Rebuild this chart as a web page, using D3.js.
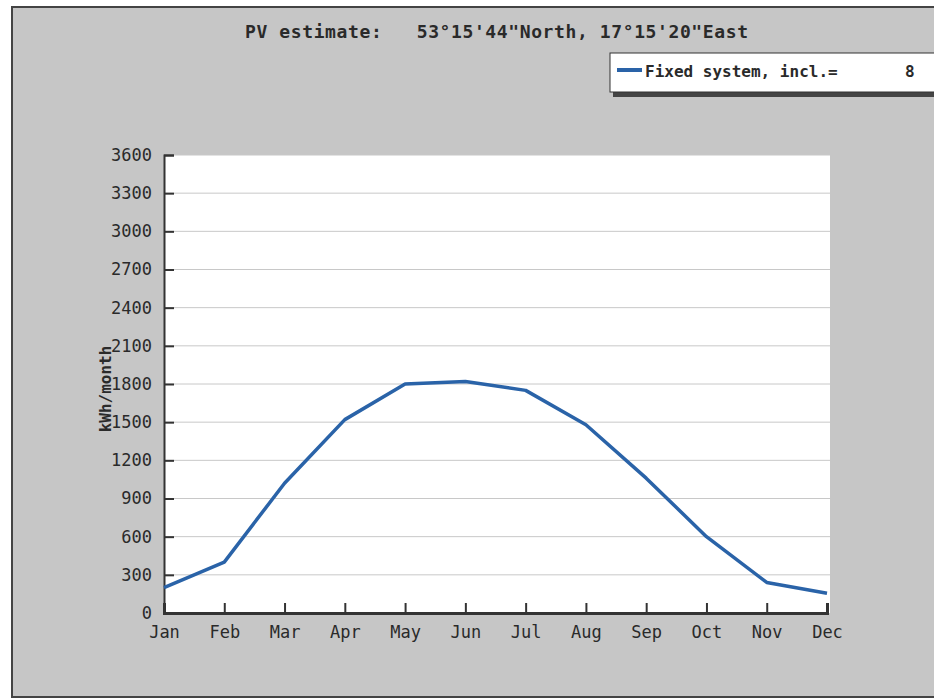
<!DOCTYPE html>
<html>
<head>
<meta charset="utf-8">
<script src="https://cdn.jsdelivr.net/npm/d3@7"></script>
<style>
  body { margin: 0; background: #fff; }
  svg { display: block; }
  text { font-family: "DejaVu Sans Mono", monospace; fill: #2a2a2a; }
</style>
</head>
<body>
<div id="chart"></div>
<script>
const months = ['Jan', 'Feb', 'Mar', 'Apr', 'May', 'Jun', 'Jul', 'Aug', 'Sep', 'Oct', 'Nov', 'Dec'];
const pvOutput = [200, 400, 1020, 1520, 1800, 1820, 1750, 1480, 1060, 600, 240, 155];
const yTicks = [0, 300, 600, 900, 1200, 1500, 1800, 2100, 2400, 2700, 3000, 3300, 3600];
const titleText = 'PV estimate:   53°15\'44"North, 17°15\'20"East';
const legendText = 'Fixed system, incl.=       8';
const yLabel = 'kWh/month';

const W = 934, H = 700;
const margin = { top: 155, right: 104, bottom: 87, left: 164 };
const width = W - margin.left - margin.right;
const height = H - margin.top - margin.bottom;

const svg = d3.select('#chart').append('svg')
  .attr('width', W)
  .attr('height', H);

// grey panel with dark frame
svg.append('rect')
  .attr('x', 12).attr('y', 7)
  .attr('width', W).attr('height', 690)
  .attr('fill', '#c6c6c6')
  .attr('stroke', '#444')
  .attr('stroke-width', 2);

svg.append('text')
  .attr('x', 245).attr('y', 38)
  .attr('font-size', 18)
  .attr('font-weight', 'bold')
  .attr('textLength', 503)
  .attr('lengthAdjust', 'spacing')
  .style('white-space', 'pre')
  .text(titleText);

// legend box with shadow
const lg = svg.append('g').attr('transform', 'translate(610, 53)');
lg.append('rect').attr('x', 3).attr('y', 3).attr('width', 330).attr('height', 41).attr('fill', '#444');
lg.append('rect').attr('width', 326).attr('height', 39).attr('fill', '#fff').attr('stroke', '#333');
lg.append('line')
  .attr('x1', 7).attr('x2', 32).attr('y1', 17).attr('y2', 17)
  .attr('stroke', '#2a63a8').attr('stroke-width', 4);
lg.append('text')
  .attr('x', 35).attr('y', 24)
  .attr('font-size', 16)
  .attr('font-weight', 'bold')
  .style('white-space', 'pre')
  .text(legendText);

const g = svg.append('g')
  .attr('transform', `translate(${margin.left}, ${margin.top})`);

const x = d3.scalePoint()
  .domain(months)
  .range([0, width - 3]);

const y = d3.scaleLinear()
  .domain([0, 3600])
  .range([height, 0]);

g.append('rect')
  .attr('width', width).attr('height', height)
  .attr('fill', '#fff');

// horizontal grid
g.append('g')
  .selectAll('line')
  .data(yTicks.filter(d => d > 0))
  .join('line')
  .attr('x1', 0).attr('x2', width)
  .attr('y1', d => y(d)).attr('y2', d => y(d))
  .attr('stroke', '#c8c8c8')
  .attr('stroke-width', 1);

const yAxis = g.append('g')
  .call(d3.axisLeft(y).tickValues(yTicks).tickSize(-10).tickPadding(12).tickFormat(d3.format('d')));
yAxis.select('.domain').attr('stroke', '#333').attr('stroke-width', 2);
yAxis.selectAll('.tick line').attr('stroke', '#333').attr('stroke-width', 2);
yAxis.selectAll('.tick text')
  .attr('font-family', '"DejaVu Sans Mono", monospace')
  .attr('font-size', 17)
  .attr('fill', '#333');

const xAxis = g.append('g')
  .attr('transform', `translate(0, ${height})`)
  .call(d3.axisBottom(x).tickSize(-10).tickPadding(13));
xAxis.select('.domain').attr('stroke', '#333').attr('stroke-width', 3);
xAxis.selectAll('.tick line').attr('stroke', '#333').attr('stroke-width', 2);
xAxis.selectAll('.tick text')
  .attr('font-family', '"DejaVu Sans Mono", monospace')
  .attr('font-size', 17)
  .attr('fill', '#333');

g.append('text')
  .attr('transform', `translate(${-53}, ${y(1800) + 5}) rotate(-90)`)
  .attr('text-anchor', 'middle')
  .attr('font-size', 16)
  .attr('font-weight', 'bold')
  .text(yLabel);

const line = d3.line()
  .x((d, i) => x(months[i]))
  .y(d => y(d));

g.append('path')
  .datum(pvOutput)
  .attr('fill', 'none')
  .attr('stroke', '#2a63a8')
  .attr('stroke-width', 3.5)
  .attr('stroke-linejoin', 'round')
  .attr('d', line);
</script>
</body>
</html>
